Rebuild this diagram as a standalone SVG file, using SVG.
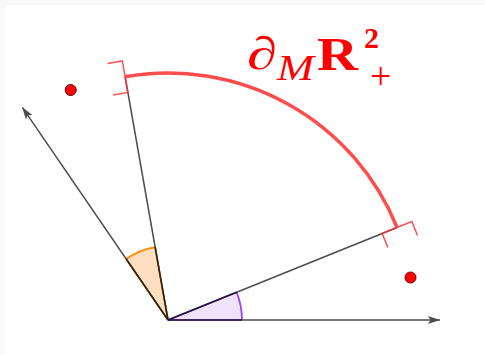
<svg xmlns="http://www.w3.org/2000/svg" width="485" height="355" viewBox="0 0 485 355">
<style>
.ray{stroke:#4d4d4d;stroke-width:1.5;fill:none}
.br{stroke:#ff3333;stroke-opacity:0.85;stroke-width:1.5;fill:none}
.dot{fill:#ff0000;stroke:#7a0000;stroke-width:1}
.lbl{fill:#ff0000;font-family:"Liberation Serif","DejaVu Serif",serif}
</style>
<defs>
<marker id="ah" markerUnits="userSpaceOnUse" markerWidth="14" markerHeight="10" refX="12" refY="4" orient="auto">
<path d="M0,0 L12,4 L0,8 L2.5,4 Z" fill="#4d4d4d"/>
</marker>
</defs>
<rect x="0" y="0" width="485" height="355" fill="#f8f8f8"/>
<rect x="5" y="5" width="480" height="350" fill="#ffffff"/>
<g id="wedge-orange">
<path d="M168 320 L155.15 247.12 A74 74 0 0 0 126.18 258.94 Z" fill="#ffdfbf" stroke="none"/>
<path d="M155.15 247.12 A74 74 0 0 0 126.18 258.94" fill="none" stroke="#ff8c00" stroke-width="2"/>
</g>
<g id="wedge-purple">
<path d="M168 320 L242 320 A74 74 0 0 0 236.61 292.28 Z" fill="#efe2fb" stroke="none"/>
<path d="M242 320 A74 74 0 0 0 236.61 292.28" fill="none" stroke="#a040ff" stroke-width="1.8"/>
</g>
<g id="connectors">
<line class="ray" x1="168" y1="320" x2="440" y2="320" marker-end="url(#ah)"/>
<line class="ray" x1="168" y1="320" x2="22.3" y2="107.3" marker-end="url(#ah)"/>
<line class="ray" x1="168" y1="320" x2="125.11" y2="76.75"/>
<line class="ray" x1="168" y1="320" x2="397.01" y2="227.47"/>
<line x1="168" y1="320" x2="126.18" y2="258.94" stroke="#3a2200" stroke-width="1.6"/>
<line x1="168" y1="320" x2="155.15" y2="247.12" stroke="#3a2200" stroke-width="1.6"/>
<line x1="168" y1="320" x2="242" y2="320" stroke="#2a1050" stroke-width="1.6"/>
<line x1="168" y1="320" x2="236.61" y2="292.28" stroke="#2a1050" stroke-width="1.6"/>
</g>
<g id="boundary-arc">
<path d="M125.11 76.75 A247 247 0 0 1 397.01 227.47" fill="none" stroke="#ff4d4d" stroke-width="3.5"/>
<path class="br" d="M107.56 63.59 L122.33 60.99 L127.89 92.51 L113.12 95.11"/>
<path class="br" d="M417.46 235.39 L411.84 221.48 L382.18 233.46 L387.80 247.37"/>
</g>
<g id="point-1"><circle class="dot" cx="70.7" cy="90" r="5.5"/></g>
<g id="point-2"><circle class="dot" cx="410.5" cy="277.5" r="5.5"/></g>
<g id="label">
<text class="lbl" x="247" y="69" font-size="46" font-style="italic" font-weight="bold" textLength="30" lengthAdjust="spacingAndGlyphs">∂</text>
<text class="lbl" x="277" y="80" font-size="36" font-style="italic" textLength="37" lengthAdjust="spacingAndGlyphs">M</text>
<text class="lbl" x="317" y="70" font-size="46" font-weight="bold" textLength="41" lengthAdjust="spacingAndGlyphs">R</text>
<text class="lbl" x="364" y="48" font-size="30" font-weight="bold">2</text>
<text class="lbl" x="370" y="89" font-size="38">+</text>
</g>
</svg>
